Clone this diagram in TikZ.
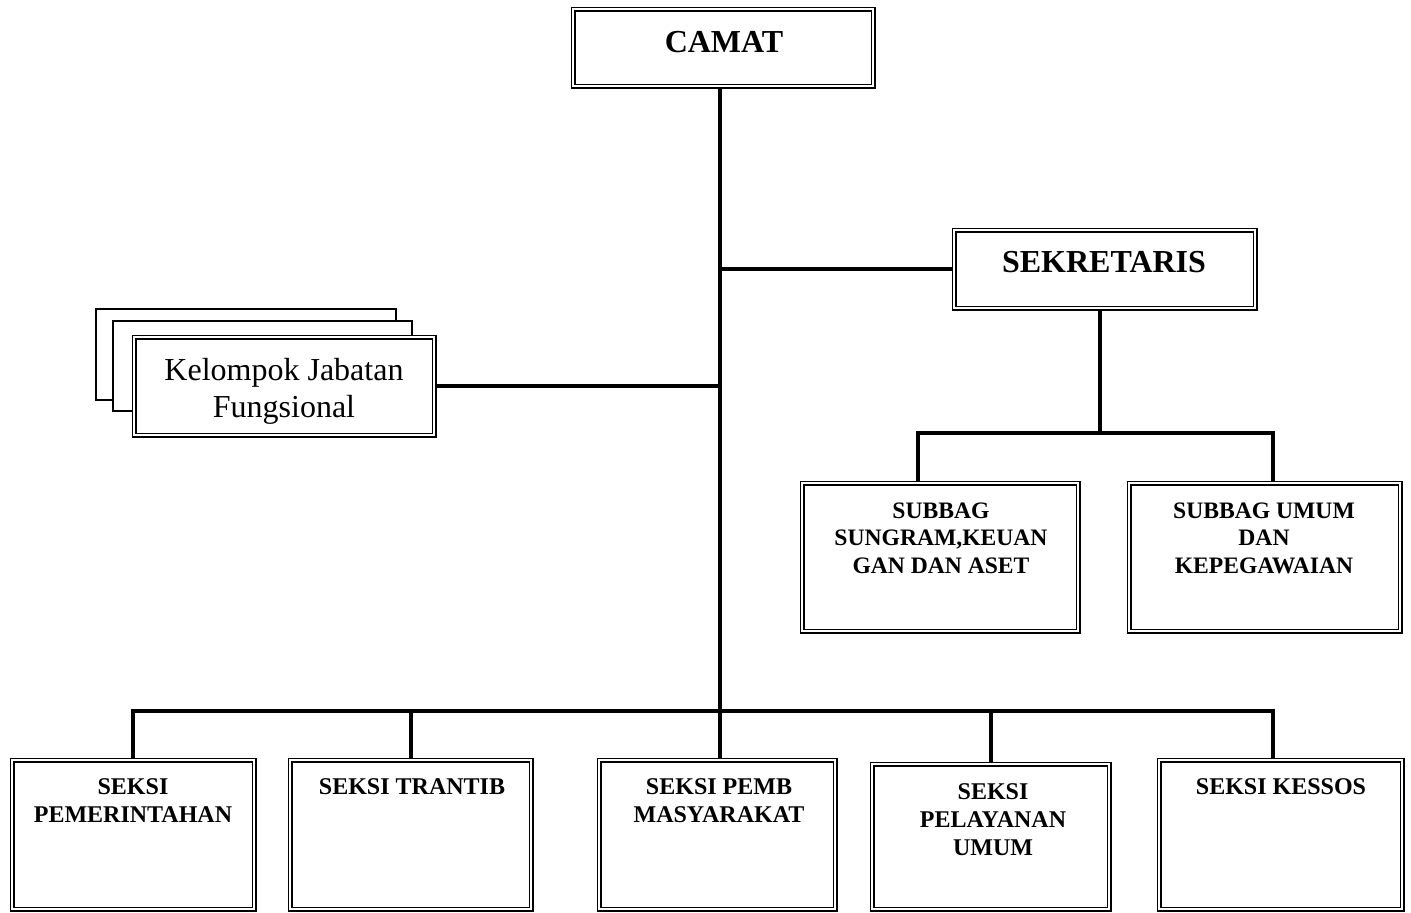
\documentclass[tikz,border=0pt]{standalone}
\usepackage{fontspec}
\setmainfont{Liberation Serif}
\usetikzlibrary{positioning,calc}

\begin{document}
\begin{tikzpicture}[x=0.5pt, y=-0.5pt,
    unitbox/.style={draw, double, double distance=1pt, line width=0.75pt, fill=white, inner sep=0pt},
    backbox/.style={draw, line width=1pt, fill=white, inner sep=0pt},
    link/.style={line width=2pt},
    headtext/.style={font=\bfseries\fontsize{16}{19}\selectfont, inner sep=0pt},
    subtext/.style={font=\bfseries\fontsize{11.8}{13.75}\selectfont, align=center, anchor=north, inner sep=0pt},
    secttext/.style={font=\bfseries\fontsize{12}{14}\selectfont, align=center, anchor=north, inner sep=0pt}]
    \useasboundingbox (0,0) rectangle (1411,912);

    \node[unitbox, minimum width=150pt, minimum height=38.5pt] (camat) at (723,47.5) {};
    \node[headtext] (camatlabel) at (724,42) {CAMAT};

    \node[unitbox, minimum width=150.5pt, minimum height=39pt] (sek) at (1104.5,269) {};
    \node[headtext] (seklabel) at (1104,262) {SEKRETARIS};

    \node[backbox, minimum width=150pt, minimum height=45.5pt] (kjfback) at (246,354.5) {};
    \node[backbox, minimum width=149.5pt, minimum height=45pt] (kjfmid) at (262.5,366) {};
    \node[unitbox, minimum width=150pt, minimum height=49pt] (kjf) at (284,386) {};
    \node[align=center, inner sep=0pt, font=\fontsize{16}{18.5}\selectfont] (kjflabel) at (284,391.5) {Kelompok Jabatan\\Fungsional};

    \node[unitbox, minimum width=138pt, minimum height=74pt] (sb1) at (940,557) {};
    \node[subtext] (sb1label) at (941,502) {SUBBAG\\SUNGRAM,KEUAN\\GAN DAN ASET};
    \node[unitbox, minimum width=135.5pt, minimum height=74pt] (sb2) at (1264.5,557) {};
    \node[subtext] (sb2label) at (1264,502) {SUBBAG UMUM\\DAN\\KEPEGAWAIAN};

    \node[unitbox, minimum width=121pt, minimum height=74.5pt] (s1) at (133,834.5) {};
    \node[secttext] (s1label) at (133,778) {SEKSI\\PEMERINTAHAN};
    \node[unitbox, minimum width=120.5pt, minimum height=74.5pt] (s2) at (410.5,834.5) {};
    \node[secttext] (s2label) at (412,778) {SEKSI TRANTIB};
    \node[unitbox, minimum width=118pt, minimum height=74.5pt] (s3) at (717,834.5) {};
    \node[secttext] (s3label) at (719,778) {SEKSI PEMB\\MASYARAKAT};
    \node[unitbox, minimum width=118.5pt, minimum height=72.5pt] (s4) at (990.5,836.5) {};
    \node[secttext] (s4label) at (993,783) {SEKSI\\PELAYANAN\\UMUM};
    \node[unitbox, minimum width=121.5pt, minimum height=74.5pt] (s5) at (1280.5,834.5) {};
    \node[secttext] (s5label) at (1281,778) {SEKSI KESSOS};

    \coordinate (trunk) at (720,711);
    \coordinate (sekbus) at (1100,433);
    \draw[link] (camat.south -| trunk) -- (trunk);
    \draw[link] (sek.west) -- (sek.west -| trunk);
    \draw[link] (kjf.east) -- (kjf.east -| trunk);
    \draw[link] (sek.south -| sekbus) -- (sekbus);
    \draw[link] ([xshift=-11pt]sb1.north) |- (sekbus);
    \draw[link] ([xshift=4.25pt]sb2.north) |- (sekbus);
    \draw[link] (s1.north) |- (trunk);
    \draw[link] (s2.north) |- (trunk);
    \draw[link] (s3.north -| trunk) -- (trunk);
    \draw[link] (s4.north) |- (trunk);
    \draw[link] ([xshift=-3.75pt]s5.north) |- (trunk);
\end{tikzpicture}
\end{document}
